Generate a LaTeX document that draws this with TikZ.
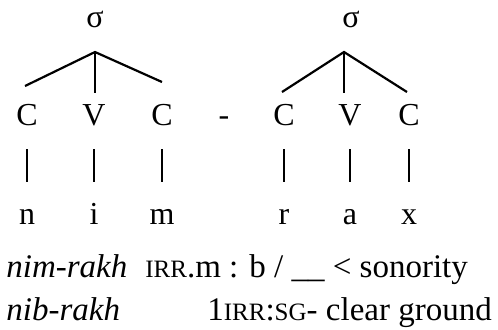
\documentclass[tikz,border=0pt]{standalone}
\usepackage{fontspec}
\setmainfont{Liberation Serif}
\usetikzlibrary{positioning}
\newcommand{\glosscap}[1]{{\fontsize{12.5}{14}\selectfont #1}}
\tikzset{
  segnode/.style={inner sep=0pt, anchor=base, font=\fontsize{16}{19}\selectfont},
  sylnode/.style={segnode},
  glossline/.style={inner sep=0pt, anchor=base west, font=\fontsize{16.5}{19}\selectfont},
  branch/.style={line width=1.1pt},
  assoc/.style={line width=0.8pt, shorten <=12pt, shorten >=21pt},
}

\begin{document}
\begin{tikzpicture}[x=0.5pt, y=-0.5pt]
    \useasboundingbox (0,0) rectangle (498,329);
    % syllable nodes
    \node[sylnode] (sigA) at (95,27) {σ};
    \node[sylnode] (sigB) at (351,27) {σ};
    \coordinate (apexA) at (95,52);
    \coordinate (apexB) at (344,52);
    \coordinate (endA1) at (25,86);
    \coordinate (endA2) at (95,93);
    \coordinate (endA3) at (162,82);
    \coordinate (endB1) at (282,92);
    \coordinate (endB2) at (344,93);
    \coordinate (endB3) at (407,92);
    \draw[branch] (endA1) -- (apexA) -- (endA3);
    \draw[branch] (apexA) -- (endA2);
    \draw[branch] (endB1) -- (apexB) -- (endB3);
    \draw[branch] (apexB) -- (endB2);
    % CV tier
    \node[segnode] (skelA1) at (27,125) {C};
    \node[segnode] (skelA2) at (94,125) {V};
    \node[segnode] (skelA3) at (162,125) {C};
    \node[segnode] (hyph) at (224,125) {-};
    \node[segnode] (skelB1) at (284,125) {C};
    \node[segnode] (skelB2) at (350,125) {V};
    \node[segnode] (skelB3) at (409,125) {C};
    % segments
    \node[segnode] (segA1) at (27,224) {n};
    \node[segnode] (segA2) at (94,224) {i};
    \node[segnode] (segA3) at (162,224) {m};
    \node[segnode] (segB1) at (284,224) {r};
    \node[segnode] (segB2) at (350,224) {a};
    \node[segnode] (segB3) at (409,224) {x};
    \draw[assoc] (skelA1.base) -- (segA1.base);
    \draw[assoc] (skelA2.base) -- (segA2.base);
    \draw[assoc] (skelA3.base) -- (segA3.base);
    \draw[assoc] (skelB1.base) -- (segB1.base);
    \draw[assoc] (skelB2.base) -- (segB2.base);
    \draw[assoc] (skelB3.base) -- (segB3.base);
    % gloss lines
    \node[glossline] (formA) at (6,277) {\itshape nim-rakh};
    \node[glossline] (glossA) at (145,277) {\glosscap{IRR}.m : b / \_\_ < sonority};
    \node[glossline] (formB) at (6,320) {\itshape nib-rakh};
    \node[glossline] (glossB) at (207,320) {1\glosscap{IRR}:\glosscap{SG}- clear ground};
\end{tikzpicture}
\end{document}
